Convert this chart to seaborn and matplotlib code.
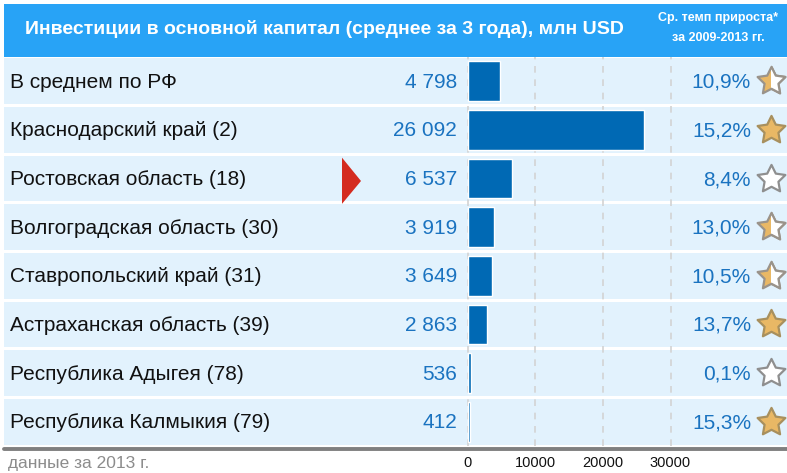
import numpy as np
import pandas as pd
import matplotlib
matplotlib.use("Agg")
import matplotlib.pyplot as plt
import matplotlib.transforms as mtransforms
from matplotlib.patches import Rectangle, Polygon
from matplotlib.path import Path
from matplotlib.markers import MarkerStyle
import seaborn as sns

# --- данные ---
regions = [
    "В среднем по РФ",
    "Краснодарский край (2)",
    "Ростовская область (18)",
    "Волгоградская область (30)",
    "Ставропольский край (31)",
    "Астраханская область (39)",
    "Республика Адыгея (78)",
    "Республика Калмыкия (79)",
]
investments = [4798, 26092, 6537, 3919, 3649, 2863, 536, 412]
growth = [10.9, 15.2, 8.4, 13.0, 10.5, 13.7, 0.1, 15.3]
stars = ["half", "full", "empty", "half", "half", "full", "empty", "full"]
highlight = "Ростовская область (18)"
xticks = [0, 10000, 20000, 30000]

title = "Инвестиции в основной капитал (среднее за 3 года), млн USD"
subtitle = "Ср. темп прироста*\nза 2009-2013 гг."
footnote = "данные за 2013 г."

df = pd.DataFrame({"region": regions, "value": investments})

sns.set_theme(style="white")
plt.rcParams["font.family"] = ["Liberation Sans", "DejaVu Sans"]

W, H = 787, 473
fig = plt.figure(figsize=(W / 100, H / 100), dpi=100)

BLUE_TXT = "#1a73c0"
ROW_BG = "#e2f2fd"
HEADER = "#28a3f6"
GOLD = "#e9b865"

# пухлая звезда для рейтинга
ang = np.pi / 2 + np.arange(10) * np.pi / 5
rad = np.where(np.arange(10) % 2 == 0, 1.0, 0.5)
verts = np.column_stack([rad * np.cos(ang), rad * np.sin(ang)])
verts = np.vstack([verts, verts[:1]])
star_marker = MarkerStyle(Path(verts, closed=True), joinstyle="round")

# main axes: full width, rows area between y=57 and y=446 px
top_px, bot_px = 57, 446
ax = fig.add_axes([0, (H - bot_px) / H, 1, (bot_px - top_px) / H])
zero_px, px_per_30k = 467.5, 203.0
k = 30000 / px_per_30k
ax.set_xlim(-zero_px * k, (W - zero_px) * k)

sns.barplot(data=df, x="value", y="region", orient="h", color="#0069b4",
            saturation=1, width=0.82, ax=ax, zorder=3)
ax.set_ylim(len(regions) - 0.5, -0.5)

trans = mtransforms.blended_transform_factory(ax.transAxes, ax.transData)
sx = 771 / W

for i, (name, val, g, st) in enumerate(zip(regions, investments, growth, stars)):
    ax.add_patch(Rectangle((4 / W, i - 0.47), 1 - 4 / W, 0.94, transform=trans,
                           facecolor=ROW_BG, edgecolor="none", zorder=0))
    ax.text(10 / W, i + 0.02, name, transform=trans, ha="left", va="center",
            fontsize=15, color="#111111")
    ax.text(457 / W, i + 0.02, f"{val:,}".replace(",", " "), transform=trans,
            ha="right", va="center", fontsize=15, color=BLUE_TXT)
    ax.text(751 / W, i + 0.02, f"{g:.1f}%".replace(".", ","), transform=trans,
            ha="right", va="center", fontsize=15, color=BLUE_TXT)

    edge = "#a8905e" if st == "full" else ("#9a938a" if st == "half" else "#8f8f8f")
    face = "white" if st == "empty" else GOLD
    ax.plot([sx], [i], marker=star_marker, markersize=21, markeredgewidth=1.6,
            markerfacecolor=face, markeredgecolor=edge, linestyle="none",
            transform=trans, clip_on=False, zorder=5)
    if st == "half":
        ln, = ax.plot([sx], [i], marker=star_marker, markersize=21, markeredgewidth=1.6,
                      markerfacecolor="white", markeredgecolor=edge, linestyle="none",
                      transform=trans, zorder=6)
        clip = Rectangle((sx, i - 0.5), 1 - sx, 1.0, transform=trans)
        ln.set_clip_path(clip)

    if name == highlight:
        ax.add_patch(Polygon([(342 / W, i - 0.43), (342 / W, i + 0.52), (361 / W, i + 0.05)],
                             closed=True, transform=trans, facecolor="#d42b1f",
                             edgecolor="none", zorder=4))

# grid & axis
ax.set_xticks(xticks)
ax.set_xticklabels([str(t) for t in xticks], fontsize=10.5, color="#111111")
ax.tick_params(axis="x", length=3, color="#bbbbbb", pad=4)
ax.set_yticks([])
ax.set_xlabel("")
ax.set_ylabel("")
for t in xticks:
    ax.axvline(t, color="#d3d3d3", linestyle=(0, (4, 4)), linewidth=1.2, zorder=1)
for s in ax.spines.values():
    s.set_visible(False)
ax.patch.set_alpha(0)

# bottom line
fig.add_artist(plt.Line2D([4 / W, 1], [(H - 449) / H] * 2, color="#808080",
                          linewidth=2.8, transform=fig.transFigure))

# header
fig.add_artist(Rectangle((4 / W, (H - 57) / H), 1 - 4 / W, 53 / H,
                         transform=fig.transFigure, facecolor=HEADER, edgecolor="none"))
fig.text(25 / W, (H - 29) / H, title, ha="left", va="center", fontsize=14,
         fontweight="bold", color="white")
fig.text(718 / W, (H - 28) / H, subtitle, ha="center", va="center", fontsize=9,
         fontweight="bold", color="white", linespacing=1.8)

fig.text(8 / W, (H - 463) / H, footnote, ha="left", va="center", fontsize=12.5,
         color="#8c8c8c")

fig.savefig("out.png", dpi=100)
